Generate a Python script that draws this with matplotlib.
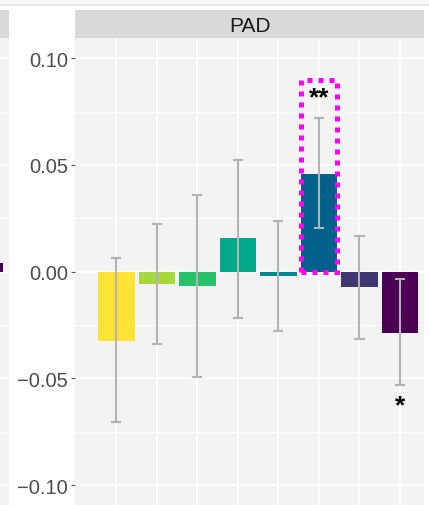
import numpy as np
import matplotlib
matplotlib.use('Agg')
from matplotlib import pyplot as plt
from matplotlib.patches import Rectangle

plt.rcParams['font.family'] = ['Liberation Sans', 'DejaVu Sans']

# dados do painel PAD
cores = ['#FDE333', '#A6D93C', '#27C16A', '#00A98A', '#00878F', '#00608A', '#3E3772', '#4B0055']
valores = [-0.0325, -0.0056, -0.0067, 0.0157, -0.0019, 0.0459, -0.0073, -0.0286]
erro_sup = [0.0063, 0.0225, 0.0358, 0.0525, 0.0238, 0.0720, 0.0169, -0.0034]
erro_inf = [-0.0706, -0.0340, -0.0493, -0.0219, -0.0278, 0.0205, -0.0315, -0.0532]
signif = ['', '', '', '', '', '**', '', '*']
signif_y = [0, 0, 0, 0, 0, 0.0815, 0, -0.0625]
destaque = 5
destaque_topo = 0.090
yticks = [-0.10, -0.05, 0.00, 0.05, 0.10]
ytick_labels = ['\u22120.10', '\u22120.05', '0.00', '0.05', '0.10']
titulo = 'PAD'
# ultima barra do painel anterior (cortado na esquerda)
anterior_valor = 0.004
anterior_cor = '#4B0055'

W, H = 429, 506
fig = plt.figure(figsize=(W / 100, H / 100), dpi=100)

fundo = '#F3F3F3'
faixa = '#D9D9D9'
ylim = (-0.1093, 0.1095)

def px(x0, y0, x1, y1):
    return [x0 / W, 1 - y1 / H, (x1 - x0) / W, (y1 - y0) / H]

# faixa clara no topo (artefato da captura)
fig.patches.append(Rectangle((0, 1 - 5 / H), 1, 5 / H, transform=fig.transFigure,
                             facecolor='#F6F6F6', edgecolor='none'))
fig.patches.append(Rectangle((0, 1 - 6.5 / H), 1, 1.5 / H, transform=fig.transFigure,
                             facecolor='#E6E6E6', edgecolor='none'))

# painel anterior (pedaco)
ax0 = fig.add_axes(px(0, 39, 9, 506))
ax0.set_facecolor(fundo)
ax0.set_xlim(7.378, 7.6)
ax0.set_ylim(*ylim)
ax0.bar([7], [anterior_valor], width=0.9, color=anterior_cor, zorder=2)
ax0.set_yticks(yticks)
ax0.set_yticks(np.arange(-0.1, 0.11, 0.025), minor=True)
ax0.grid(True, which='major', axis='y', color='white', lw=1.1)
ax0.grid(True, which='minor', axis='y', color='white', lw=0.6)
ax0.tick_params(left=False, labelleft=False, bottom=False, labelbottom=False, which='both')
for s in ax0.spines.values():
    s.set_visible(False)

fs0 = fig.add_axes(px(0, 11, 9, 39))
fs0.set_facecolor(faixa)
fs0.set_xticks([]); fs0.set_yticks([])
for s in fs0.spines.values():
    s.set_visible(False)

# painel principal
ax = fig.add_axes(px(75, 39, 424.3, 506))
ax.set_facecolor(fundo)
x = np.arange(len(valores))
ax.set_xlim(-1.02, 7.6)
ax.set_ylim(*ylim)
ax.set_yticks(yticks)
ax.set_yticklabels(ytick_labels)
ax.set_yticks(np.arange(-0.1, 0.11, 0.025), minor=True)
ax.set_xticks(x)
ax.grid(True, which='major', color='white', lw=1.1, zorder=0)
ax.grid(True, which='minor', axis='y', color='white', lw=0.6, zorder=0)
ax.set_axisbelow(True)
ax.tick_params(axis='y', which='major', length=3, width=0.8, color='#555555',
               labelsize=14.5, labelcolor='#4D4D4D', pad=2)
ax.tick_params(axis='y', which='minor', length=0)
ax.tick_params(axis='x', bottom=False, labelbottom=False)
for s in ax.spines.values():
    s.set_visible(False)

ax.bar(x, valores, width=0.9, color=cores, zorder=2)
for i in range(len(valores)):
    ax.plot([x[i], x[i]], [erro_inf[i], erro_sup[i]], color='#B3B3B3', lw=1.5, zorder=3)
    for yy in (erro_inf[i], erro_sup[i]):
        ax.plot([x[i] - 0.1, x[i] + 0.1], [yy, yy], color='#B3B3B3', lw=1.5, zorder=3)
    if signif[i]:
        ax.text(x[i], signif_y[i], signif[i], ha='center', va='center', fontsize=19,
                fontweight='bold', color='black', zorder=4)

ret = Rectangle((destaque - 0.45, 0), 0.9, destaque_topo, fill=False, edgecolor='#FF00FF',
                lw=3.6, linestyle=(0, (1, 1.2)), zorder=5)
ax.add_patch(ret)

# faixa do titulo
fs = fig.add_axes(px(75, 11, 424.3, 39))
fs.set_facecolor(faixa)
fs.set_xticks([]); fs.set_yticks([])
for s in fs.spines.values():
    s.set_visible(False)
fs.text(0.5, 0.45, titulo, ha='center', va='center', fontsize=15, color='#1A1A1A',
        transform=fs.transAxes)

fig.savefig('out.png', dpi=100)
